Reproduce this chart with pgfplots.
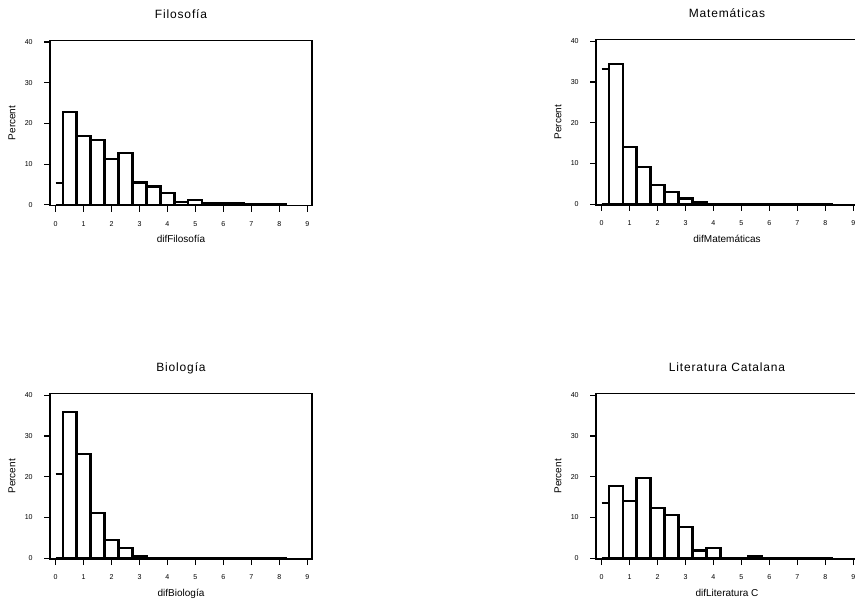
\documentclass[border=0pt]{standalone}
\usepackage{fontspec}
\setmainfont{Liberation Sans}
\usepackage{pgfplots}
\pgfplotsset{compat=1.18}

% SPSS-like histogram panels, 1px of the reference = 0.75pt
\pgfplotsset{
  hist/.style={
    scale only axis, width=196.5pt, height=124pt,
    xmin=-0.2, xmax=9.17, ymin=-0.2, ymax=40.4,
    xtick={0,...,9}, ytick={0,10,20,30,40},
    tick align=outside, tick pos=left,
    major tick length=4.5pt,
    axis line style={line width=1.1pt},
    tick style={line width=0.9pt, black},
    /pgf/number format/assume math mode=true,
    ticklabel style={font=\fontsize{5.3}{6}\selectfont},
    xticklabel style={yshift=-4pt},
    yticklabel style={xshift=-5pt},
    ylabel={Percent},
    label style={font=\fontsize{7.5}{9}\selectfont},
    xlabel style={at={(axis description cs:0.5,0)}, anchor=base, yshift=-28pt},
    ylabel style={at={(axis description cs:-0.132,0.5)}, anchor=base},
    title style={at={(axis description cs:0.5,1)}, anchor=base, yshift=10.5pt,
                 font=\fontsize{9}{10}\selectfont\addfontfeature{LetterSpace=7}},
  },
  bars/.style={ybar, bar width=0.5, bar shift=0pt, fill=white, draw=black, line width=1.6pt},
  half/.style={black, line width=1.6pt},
}

\begin{document}
\begin{tikzpicture}

\begin{axis}[hist, at={(37.5pt,298pt)}, anchor=south west,
  title={Filosofía}, xlabel={difFilosofía}]
\addplot[half] coordinates {(0,0) (0.25,0)};
\addplot[half] coordinates {(0,5.4) (0.25,5.4)};
\addplot[bars] coordinates {
  (0.5,22.7) (1.0,17.0) (1.5,16.0) (2.0,11.2) (2.5,12.7) (3.0,5.5)
  (3.5,4.5) (4.0,2.9) (4.5,0.6) (5.0,1.1) (5.5,0.5) (6.0,0.5)
  (6.5,0.5) (7.0,0.2) (7.5,0.2) (8.0,0.2)};
\end{axis}

\begin{axis}[hist, at={(447pt,298.5pt)}, anchor=south west,
  title={Matemáticas}, xlabel={difMatemáticas}]
\addplot[half] coordinates {(0,0) (0.25,0)};
\addplot[half] coordinates {(0,33.2) (0.25,33.2)};
\addplot[bars] coordinates {
  (0.5,34.4) (1.0,14.0) (1.5,9.2) (2.0,4.8) (2.5,2.9) (3.0,1.4)
  (3.5,0.6) (4.0,0.1) (4.5,0.1) (5.0,0.1) (5.5,0.1) (6.0,0.1)
  (6.5,0.1) (7.0,0.1) (7.5,0.1) (8.0,0.1)};
\end{axis}

\begin{axis}[hist, at={(37.5pt,33pt)}, anchor=south west,
  title={Biología}, xlabel={difBiología}]
\addplot[half] coordinates {(0,0) (0.25,0)};
\addplot[half] coordinates {(0,20.7) (0.25,20.7)};
\addplot[bars] coordinates {
  (0.5,35.8) (1.0,25.5) (1.5,11.2) (2.0,4.4) (2.5,2.4) (3.0,0.5)
  (3.5,0.15) (4.0,0.15) (4.5,0.15) (5.0,0.15) (5.5,0.15) (6.0,0.15)
  (6.5,0.15) (7.0,0.15) (7.5,0.15) (8.0,0.15)};
\end{axis}

\begin{axis}[hist, at={(447pt,33pt)}, anchor=south west,
  title={Literatura Catalana}, xlabel={difLiteratura C}]
\addplot[half] coordinates {(0,0) (0.25,0)};
\addplot[half] coordinates {(0,13.5) (0.25,13.5)};
\addplot[bars] coordinates {
  (0.5,17.8) (1.0,14.0) (1.5,19.7) (2.0,12.4) (2.5,10.5) (3.0,7.6)
  (3.5,1.9) (4.0,2.4) (4.5,0.15) (5.0,0.15) (5.5,0.6) (6.0,0.15)
  (6.5,0.15) (7.0,0.15) (7.5,0.15) (8.0,0.15)};
\end{axis}

\pgfresetboundingbox
\path (0,0) rectangle (641.25pt,452.25pt);
\end{tikzpicture}
\end{document}
